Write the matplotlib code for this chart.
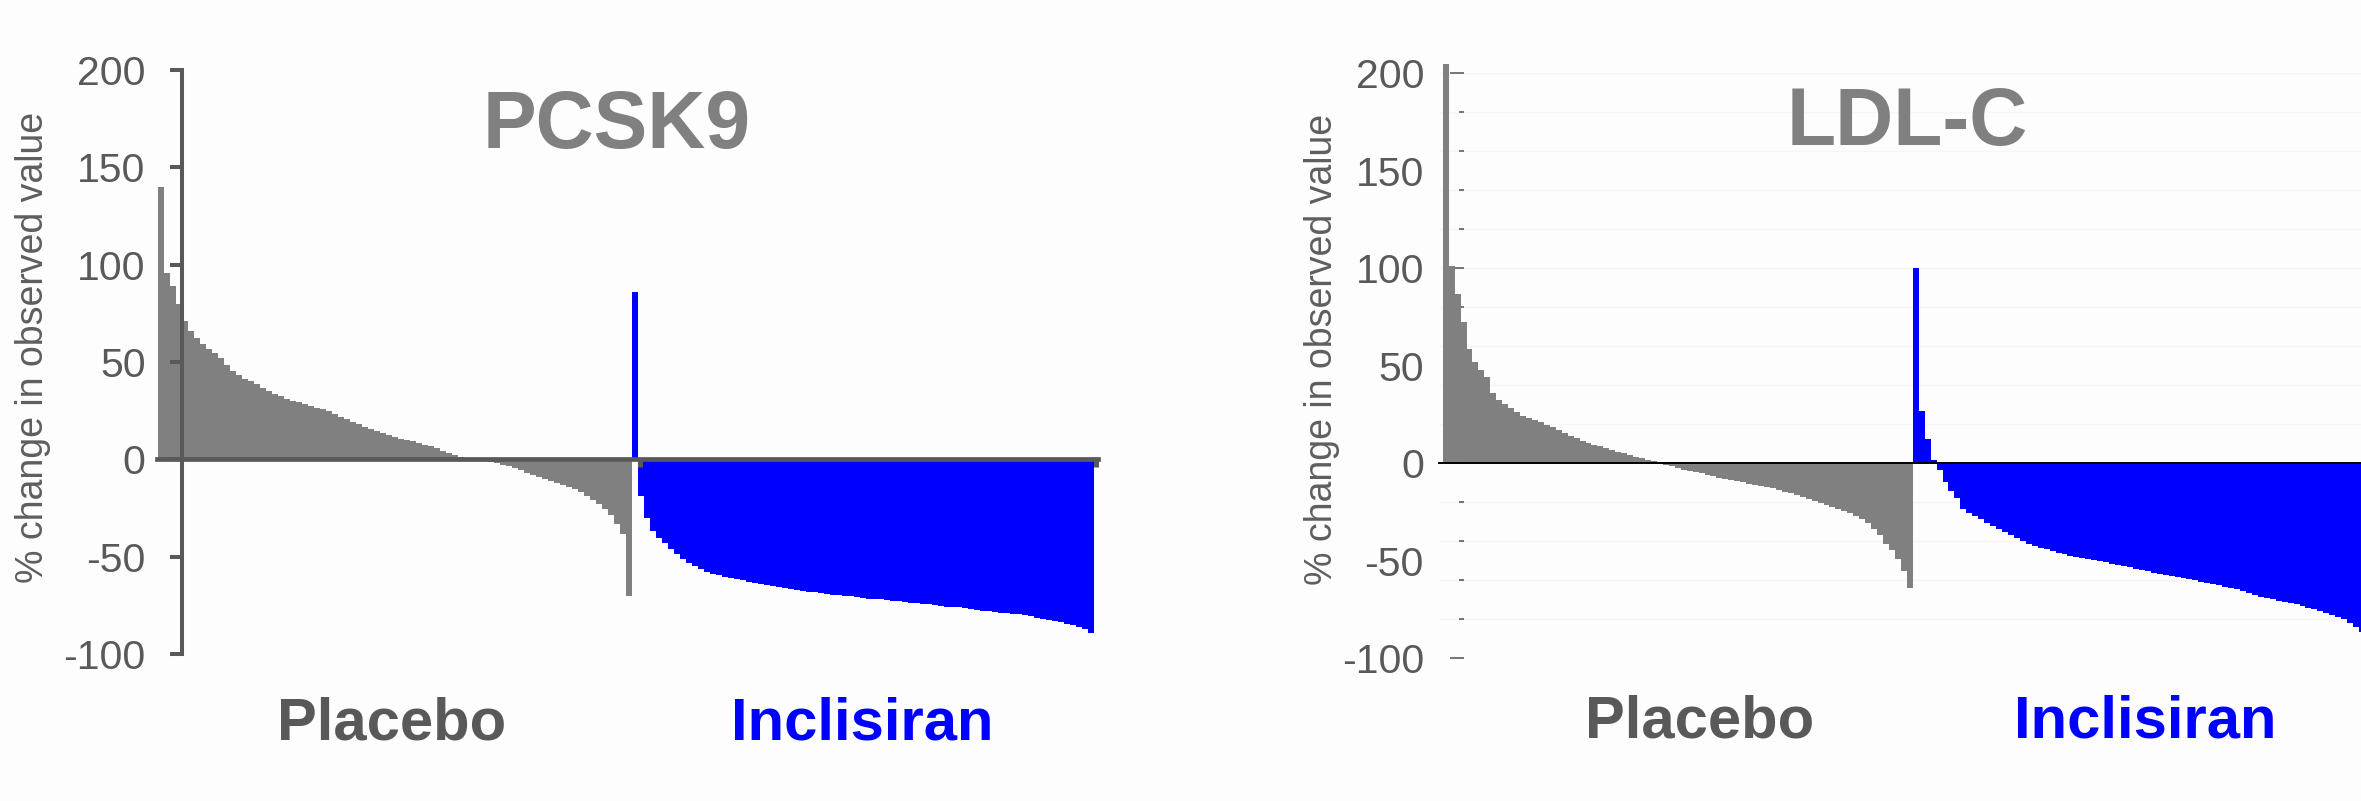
import numpy as np
import matplotlib
matplotlib.use("Agg")
import matplotlib.pyplot as plt
from matplotlib.ticker import FixedLocator, NullFormatter

plt.rcParams['font.family'] = ['Liberation Sans', 'DejaVu Sans']

# ---------------- data ----------------
pcsk9_placebo = [140, 95.5, 89, 80, 71, 66, 62.5, 59, 56.5, 54.5,
                 52, 48.5, 45.5, 43.5, 41.5, 40, 38.5, 36.5, 35.3, 33.8,
                 32.3, 31.2, 30.2, 29.2, 28.3, 27.4, 26.5, 25.6, 24.6, 23.4,
                 22, 20.8, 19.4, 18, 16.8, 15.6, 14.5, 13.4, 12.4, 11.5,
                 10.6, 9.9, 9.2, 8.5, 7.6, 6.6, 5.6, 4.3, 3.0, 2.0,
                 1.2, 0.5, 0.2, -0.2, -0.8, -1.4, -2.1, -2.8, -3.5, -4.5,
                 -5.5, -6.8, -8.1, -9.2, -10.1, -10.9, -12.0, -13.2, -14.4, -15.4,
                 -16.6, -18.7, -20.8, -23, -25.5, -28.5, -33, -38.5, -70]
pcsk9_inclisiran = [86, -19, -30, -37, -40.5, -42.8, -46, -48.7, -51, -53.1,
                    -54.9, -56.4, -57.7, -58.7, -59.6, -60.3, -60.9, -61.5, -62.1, -62.8,
                    -63.4, -64, -64.6, -65.1, -65.6, -66.2, -66.6, -67.1, -67.5, -67.9,
                    -68.4, -68.8, -69.1, -69.5, -69.8, -70.1, -70.4, -70.7, -71.1, -71.5,
                    -71.8, -72.0, -72.3, -72.6, -73, -73.3, -73.6, -73.9, -74.2, -74.5,
                    -74.9, -75.2, -75.6, -75.9, -76.1, -76.4, -76.7, -77.2, -77.7, -78.1,
                    -78.4, -78.7, -79, -79.3, -79.6, -80.1, -80.7, -81.3, -81.9, -82.5,
                    -83.2, -83.8, -84.5, -85.2, -86, -87, -89]
ldl_placebo = [205, 101, 87, 72.5, 58.5, 52, 48, 44, 36, 32.5,
               30.4, 28.4, 26.3, 24.5, 23.3, 22.2, 21, 19.8, 18.5, 17,
               15.4, 14.1, 12.8, 11.6, 10.5, 9.5, 8.7, 7.8, 6.9, 6,
               5.1, 4.2, 3.3, 2.5, 1.8, 1.1, 0.3, -0.8, -1.6, -2.5,
               -3.2, -3.9, -4.5, -5.1, -5.8, -6.6, -7.3, -7.9, -8.5, -9.1,
               -9.7, -10.4, -11, -11.6, -12.2, -12.9, -13.7, -14.5, -15.4, -16.3,
               -17.2, -18.2, -19.3, -20.2, -21.4, -22.6, -23.5, -24.4, -25.4, -26.8,
               -28.8, -30.7, -33.5, -37, -41.5, -44.5, -49, -55, -64]
ldl_inclisiran = [100, 27, 12.5, 1.5, -3.5, -9.5, -14.3, -18, -23.5, -25.4,
                  -27, -28.6, -30.6, -32.4, -33.9, -35.3, -37, -38.5, -40, -41.3,
                  -42.3, -43.2, -44.1, -45.1, -46, -46.7, -47.3, -47.9, -48.4, -48.9,
                  -49.4, -49.9, -50.7, -51.5, -52.2, -52.8, -53.4, -54.1, -54.7, -55.4,
                  -56, -56.6, -57.2, -57.7, -58.1, -58.6, -59.3, -60.1, -60.8, -61.4,
                  -62, -62.6, -63.2, -63.9, -64.7, -65.6, -66.5, -67.5, -68.4, -69.2,
                  -69.8, -70.4, -71, -71.6, -72.2, -73, -74, -74.8, -75.7, -76.7,
                  -77.6, -78.8, -79.9, -81.8, -84.2, -86.5]

ytick_labels = [-100, -50, 0, 50, 100, 150, 200]
ldl_minor_ticks = list(range(-100, 201, 20))
ldl_major_ticks = [-100, 0, 100, 200]
titles = ["PCSK9", "LDL-C"]
groups = ["Placebo", "Inclisiran"]
ylabel = "% change in observed value"

GRAY = "#808080"
BLUE = "#0000FF"
DARK = "#595959"

W, H = 2361, 801
fig = plt.figure(figsize=(W / 100, H / 100), dpi=100, facecolor="#fdfdfd")


def px_axes(x0, x1, y_top, y_bot):
    return fig.add_axes([x0 / W, (H - y_bot) / H, (x1 - x0) / W, (y_bot - y_top) / H])


def draw_bars(ax, placebo, incl):
    n_p, n_i = len(placebo), len(incl)
    ax.bar(np.arange(n_p), placebo, width=1, align="edge", color=GRAY,
           linewidth=0, antialiased=False, clip_on=False)
    ax.bar(np.arange(n_p, n_p + n_i), incl, width=1, align="edge", color=BLUE,
           linewidth=0, antialiased=False, clip_on=False)
    return n_p, n_i


# ---------------- left panel: PCSK9 ----------------
ax1 = px_axes(157, 1098, 70, 654)
ax1.set_facecolor("none")
unit1 = 6.0
x0_1 = 158.3
ax1.set_xlim((157 - x0_1) / unit1, (1098 - x0_1) / unit1)
ax1.set_ylim(-100, 200)
n_p, n_i = draw_bars(ax1, pcsk9_placebo, pcsk9_inclisiran)
for s in ["top", "right"]:
    ax1.spines[s].set_visible(False)
ax1.spines["bottom"].set_position(("data", 0))
ax1.spines["bottom"].set_linewidth(3.4)
ax1.spines["bottom"].set_color(DARK)
ax1.spines["left"].set_position(("data", (181.7 - x0_1) / unit1))
ax1.spines["left"].set_linewidth(2.9)
ax1.spines["left"].set_color(DARK)
ax1.spines["left"].set_bounds(-100, 200)
ax1.set_yticks(ytick_labels)
ax1.set_yticklabels([str(v) for v in ytick_labels])
ax1.tick_params(axis="y", length=9, width=2.9, color=DARK, labelsize=29.5,
                labelcolor=DARK, pad=17)
ax1.set_xticks([n_p + 1.3, n_p + n_i + 0.3])
ax1.xaxis.set_major_formatter(NullFormatter())
ax1.tick_params(axis="x", length=5.5, width=3.6, color=DARK, direction="out")

# ---------------- right panel: LDL-C ----------------
ax2 = px_axes(1439, 2361, 73.3, 658.3)
ax2.set_facecolor("none")
unit2 = 5.95
x0_2 = 1442.7
ax2.set_xlim((1439 - x0_2) / unit2, (2361 - x0_2) / unit2)
ax2.set_ylim(-100, 200)
ax2.set_axisbelow(True)
draw_bars(ax2, ldl_placebo, ldl_inclisiran)
for s in ["top", "right", "left"]:
    ax2.spines[s].set_visible(False)
ax2.spines["bottom"].set_position(("data", 0))
ax2.spines["bottom"].set_linewidth(1.4)
ax2.spines["bottom"].set_color("black")
ax2.spines["bottom"].set_zorder(3)
ax2.set_xticks([])
loc_frac = (1464 - 1439) / (2361 - 1439)
ax2.spines["left"].set_position(("axes", loc_frac))
ax2.yaxis.set_major_locator(FixedLocator(ldl_major_ticks))
ax2.yaxis.set_minor_locator(FixedLocator(ldl_minor_ticks))
ax2.yaxis.set_major_formatter(NullFormatter())
ax2.tick_params(axis="y", which="major", length=10, width=1.3, color="#6a6a6a")
ax2.tick_params(axis="y", which="minor", length=3.6, width=1.3, color="#6a6a6a")
ax2.yaxis.grid(True, which="both", color="#f6f6f6", linewidth=1)

sec = ax2.secondary_yaxis(loc_frac)
sec.spines["left"].set_visible(False)
sec.set_yticks(ytick_labels)
sec.set_yticklabels([str(v) for v in ytick_labels])
sec.tick_params(axis="y", length=0, labelsize=29.5, labelcolor=DARK, pad=28.8)

# ---------------- texts ----------------
def ftext(x, y, s, **kw):
    fig.text(x / W, 1 - y / H, s, **kw)

ftext(617, 148, titles[0], ha="center", va="baseline", fontsize=58,
      fontweight="bold", color=GRAY)
ftext(1907, 145, titles[1], ha="center", va="baseline", fontsize=58,
      fontweight="bold", color=GRAY)
ftext(392, 740, groups[0], ha="center", va="baseline", fontsize=43,
      fontweight="bold", color=DARK)
ftext(862, 740, groups[1], ha="center", va="baseline", fontsize=43,
      fontweight="bold", color=BLUE)
ftext(1700, 738, groups[0], ha="center", va="baseline", fontsize=43,
      fontweight="bold", color=DARK)
ftext(2145, 738, groups[1], ha="center", va="baseline", fontsize=43,
      fontweight="bold", color=BLUE)
ftext(33, 347.5, ylabel, ha="center", va="center", rotation=90,
      fontsize=27, color="#5e5e5e")
ftext(1322, 349, ylabel, ha="center", va="center", rotation=90,
      fontsize=27, color="#5e5e5e")

fig.savefig("out.png", dpi=100, facecolor=fig.get_facecolor())
